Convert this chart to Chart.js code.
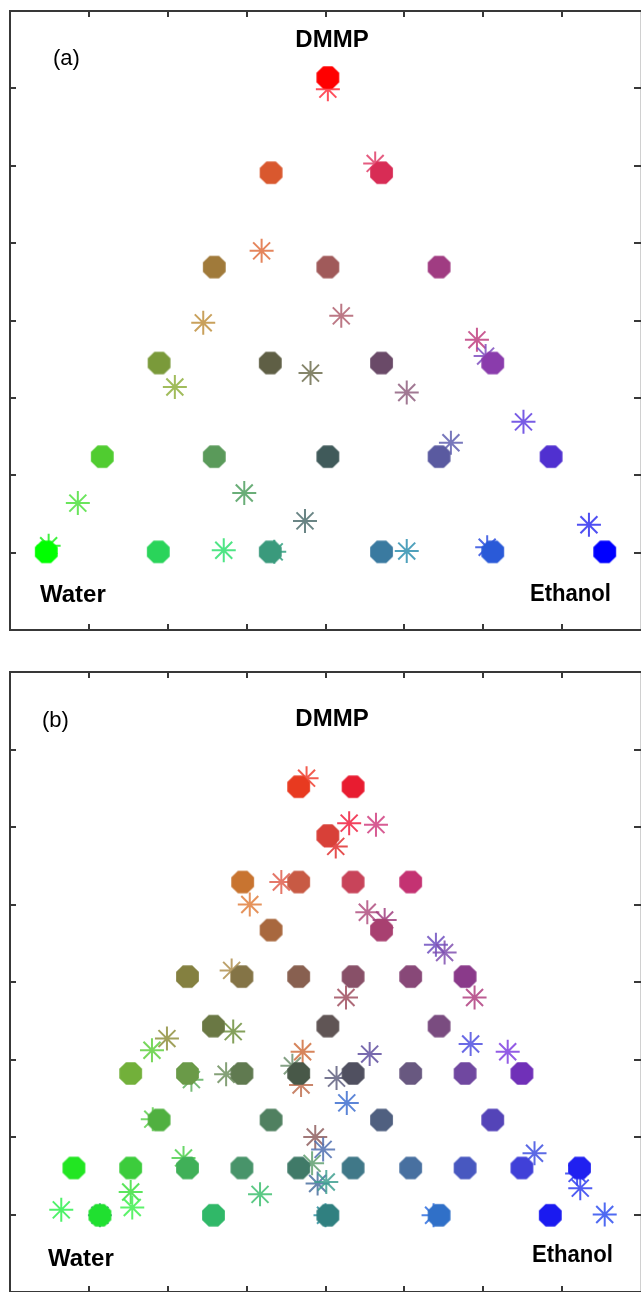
<!DOCTYPE html>
<html><head><meta charset="utf-8">
<style>
html,body{margin:0;padding:0;background:#fff;overflow:hidden}
#wrap{position:relative;width:642px;height:1292px;background:#fff}
canvas{position:absolute;left:0}
</style>
<script src="https://cdn.jsdelivr.net/npm/chart.js"></script>
</head><body>
<div id="wrap">
<canvas id="ca" width="642" height="650" style="top:0px"></canvas>
<canvas id="cb" width="642" height="642" style="top:650px"></canvas>
</div>
<script>
// ---------- tick positions ----------
const xTicks = [1, 2, 3, 4, 5, 6, 7];
const yTicks = [1, 2, 3, 4, 5, 6, 7];

// ---------- panel (a) ----------
const aCircleX = [0.46, 1.88, 3.30, 4.71, 6.12, 7.54,
                  1.17, 2.59, 4.03, 5.44, 6.86,
                  1.89, 3.30, 4.71, 6.12,
                  2.59, 4.03, 5.44,
                  3.31, 4.71,
                  4.03];
const aCircleY = [1.01, 1.01, 1.01, 1.01, 1.01, 1.01,
                  2.24, 2.24, 2.24, 2.24, 2.24,
                  3.45, 3.45, 3.45, 3.45,
                  4.69, 4.69, 4.69,
                  5.91, 5.91,
                  7.14];
const aStarX = [4.03, 4.63, 3.19, 2.45, 4.20, 5.92, 6.03, 3.81, 2.09, 5.03, 6.51,
                5.59, 0.86, 2.97, 3.74, 7.34, 0.49, 2.71, 3.35, 5.03, 6.05];
const aStarY = [6.99, 6.03, 4.90, 3.97, 4.06, 3.75, 3.54, 3.32, 3.14, 3.07, 2.69,
                2.42, 1.64, 1.77, 1.41, 1.36, 1.09, 1.03, 1.01, 1.02, 1.07];

// ---------- panel (b) ----------
const bCircleX = [3.66, 4.35,
                  4.03,
                  2.95, 3.66, 4.35, 5.08,
                  3.31, 4.71,
                  2.25, 2.94, 3.66, 4.35, 5.08, 5.77,
                  2.58, 4.03, 5.44,
                  1.53, 2.25, 2.94, 3.66, 4.35, 5.08, 5.77, 6.49,
                  1.89, 3.31, 4.71, 6.12,
                  0.81, 1.53, 2.25, 2.94, 3.66, 4.35, 5.08, 5.77, 6.49, 7.22,
                  1.14, 2.58, 4.03, 5.44, 6.85];
const bCircleY = [6.52, 6.52,
                  5.89,
                  5.29, 5.29, 5.29, 5.29,
                  4.67, 4.67,
                  4.07, 4.07, 4.07, 4.07, 4.07, 4.07,
                  3.43, 3.43, 3.43,
                  2.82, 2.82, 2.82, 2.82, 2.82, 2.82, 2.82, 2.82,
                  2.22, 2.22, 2.22, 2.22,
                  1.60, 1.60, 1.60, 1.60, 1.60, 1.60, 1.60, 1.60, 1.60, 1.60,
                  0.99, 0.99, 0.99, 0.99, 0.99];
const bStarX = [3.76, 4.30, 4.64, 4.13, 3.44, 3.04, 4.53, 4.75, 5.40, 5.51, 2.81,
                4.26, 5.89, 2.83, 1.99, 1.80, 5.84, 6.31, 4.56, 3.71, 3.58, 2.30,
                2.74, 3.69, 4.14, 4.27, 1.81, 3.87, 3.97, 6.65, 2.20, 3.83, 3.90,
                4.01, 7.19, 7.23, 1.53, 3.17, 1.55, 0.65, 1.14, 4.00, 5.37, 7.54];
const bStarY = [6.63, 6.05, 6.03, 5.75, 5.29, 5.00, 4.90, 4.80, 4.48, 4.38, 4.15,
                3.80, 3.80, 3.36, 3.27, 3.12, 3.20, 3.10, 3.07, 3.10, 2.92, 2.74,
                2.81, 2.67, 2.76, 2.44, 2.23, 2.00, 1.84, 1.79, 1.73, 1.66, 1.40,
                1.42, 1.53, 1.34, 1.29, 1.26, 1.09, 1.06, 0.99, 0.99, 0.99, 1.00];

// ---------- styles (colours) ----------
const aCircleColor = ['#00ff00', '#2ad45a', '#3a9a7c', '#3a7aa0', '#2a5ad8', '#0000ff',
                      '#50cc30', '#5a9a5a', '#405a5a', '#5a5aa0', '#5030d0',
                      '#7a9a3a', '#5f5f45', '#6a4a68', '#8a3cac',
                      '#a07a3a', '#a05a5a', '#a03c82',
                      '#d9582e', '#d82c55',
                      '#ff0000'];
const aStarColor = ['#ff3040', '#e0406a', '#e07040', '#c09040', '#b06070', '#c04080',
                    '#8050c0', '#707050', '#90b040', '#906080', '#6040e0', '#6060b0',
                    '#50e040', '#50a060', '#507070', '#3030f0', '#20f020', '#30e070',
                    '#30a080', '#3090b0', '#3050e0'];
const bCircleColor = ['#e83a20', '#e81c30',
                      '#d84038',
                      '#c87430', '#c85a44', '#c8445a', '#c43272',
                      '#a8683e', '#a84070',
                      '#848040', '#847446', '#886050', '#885068', '#884878', '#8a3a8a',
                      '#6a7844', '#605555', '#7a4c80',
                      '#72b03a', '#6a9a48', '#607a50', '#485848', '#505060', '#685880', '#7048a0', '#7030b8',
                      '#50b040', '#508060', '#506080', '#5444b8',
                      '#22e622', '#3ccc3c', '#40b058', '#48946a', '#407a68', '#407888', '#4870a0', '#4858c0', '#4040d8', '#2020f0',
                      '#20e030', '#30b868', '#308080', '#3070c8', '#1a1af0'];
const bStarColor = ['#f04030', '#f02040', '#d04080', '#e03030', '#e06050', '#e08040',
                    '#b05080', '#a04080', '#7050c0', '#8050b0', '#b09050', '#a05060',
                    '#b04080', '#709040', '#909040', '#60d040', '#5050e0', '#8040e0',
                    '#6050a0', '#d07040', '#709070', '#60b060', '#709060', '#c07050',
                    '#606080', '#4070d0', '#60d050', '#906060', '#5070b0', '#4050e0',
                    '#50d050', '#60a070', '#4a70a0', '#40a090', '#3040f0', '#3040f0',
                    '#40e040', '#40c070', '#40f050', '#30f050', '#409080', '#3090a0',
                    '#3070e0', '#3050f0'];

// ---------- octagon marker ----------
const octCache = {};
function octagon(color) {
  if (octCache[color]) return octCache[color];
  const c = document.createElement('canvas');
  c.width = 25; c.height = 25;
  const g = c.getContext('2d');
  const R = 12.3, cx = 12.5, cy = 12.5;
  g.fillStyle = color;
  g.beginPath();
  for (let k = 0; k < 8; k++) {
    const t = Math.PI / 8 + k * Math.PI / 4;
    const px = cx + R * Math.cos(t), py = cy + R * Math.sin(t);
    if (k === 0) g.moveTo(px, py); else g.lineTo(px, py);
  }
  g.closePath();
  g.fill();
  octCache[color] = c;
  return c;
}
function hexA(h, a) {
  const r = parseInt(h.slice(1, 3), 16), g = parseInt(h.slice(3, 5), 16), b = parseInt(h.slice(5, 7), 16);
  return `rgba(${r},${g},${b},${a})`;
}

// ---------- frame / ticks / text plugin ----------
const framePlugin = {
  id: 'frame',
  beforeDatasetsDraw(chart) {
    const { ctx, chartArea: a, scales } = chart;
    const x = scales.x, y = scales.y;
    ctx.save();
    ctx.strokeStyle = '#d0d0d0'; ctx.lineWidth = 1;
    ctx.beginPath(); ctx.moveTo(a.right - 0.5, a.top); ctx.lineTo(a.right - 0.5, a.bottom); ctx.stroke();
    ctx.strokeStyle = '#383838'; ctx.lineWidth = 2;
    ctx.beginPath();
    ctx.moveTo(a.right, a.top); ctx.lineTo(a.left, a.top);
    ctx.lineTo(a.left, a.bottom); ctx.lineTo(a.right, a.bottom);
    ctx.stroke();
    ctx.beginPath();
    xTicks.forEach(v => {
      const px = Math.round(x.getPixelForValue(v));
      ctx.moveTo(px, a.top); ctx.lineTo(px, a.top + 6);
      ctx.moveTo(px, a.bottom); ctx.lineTo(px, a.bottom - 6);
    });
    yTicks.forEach(v => {
      const py = Math.round(y.getPixelForValue(v));
      ctx.moveTo(a.left, py); ctx.lineTo(a.left + 6, py);
      ctx.moveTo(a.right, py); ctx.lineTo(a.right - 7, py);
    });
    ctx.stroke();
    ctx.restore();
  },
  afterDraw(chart, args, opts) {
    const ctx = chart.ctx;
    ctx.save();
    ctx.fillStyle = '#000';
    ctx.textBaseline = 'alphabetic';
    (opts.texts || []).forEach(t => {
      ctx.font = t.font;
      ctx.textAlign = t.align || 'left';
      if (t.maxWidth) ctx.fillText(t.text, t.x, t.y, t.maxWidth);
      else ctx.fillText(t.text, t.x, t.y);
    });
    ctx.restore();
  }
};

function makeChart(id, cx, cy, cc, sx, sy, sc, padding, texts) {
  return new Chart(document.getElementById(id), {
    type: 'scatter',
    data: {
      datasets: [
        {
          label: 'measured',
          data: cx.map((v, i) => ({ x: v, y: cy[i] })),
          pointStyle: cc.map(c => octagon(c)),
          pointRadius: 11,
          clip: false,
          order: 0
        },
        {
          label: 'predicted',
          data: sx.map((v, i) => ({ x: v, y: sy[i] })),
          pointStyle: 'star',
          pointRadius: 12,
          pointBorderWidth: 2,
          pointBorderColor: sc.map(c => hexA(c, 0.85)),
          pointBackgroundColor: 'rgba(0,0,0,0)',
          clip: false,
          order: 1
        }
      ]
    },
    options: {
      responsive: false,
      animation: false,
      devicePixelRatio: 1,
      events: [],
      layout: { padding, autoPadding: false },
      scales: {
        x: { type: 'linear', min: 0, max: 8, display: false },
        y: { type: 'linear', min: 0, max: 8, display: false }
      },
      plugins: {
        legend: { display: false },
        tooltip: { enabled: false },
        frame: { texts }
      }
    },
    plugins: [framePlugin]
  });
}

const BOLD = 'bold 24px "Liberation Sans", Arial, sans-serif';
const REG = '22px "Liberation Sans", Arial, sans-serif';

makeChart('ca', aCircleX, aCircleY, aCircleColor, aStarX, aStarY, aStarColor,
  { top: 11, left: 10, right: 1, bottom: 20 },
  [
    { text: '(a)', x: 53, y: 65, font: REG },
    { text: 'DMMP', x: 332, y: 47, font: BOLD, align: 'center' },
    { text: 'Water', x: 40, y: 602, font: BOLD, maxWidth: 67 },
    { text: 'Ethanol', x: 530, y: 601, font: BOLD, maxWidth: 81 }
  ]);

makeChart('cb', bCircleX, bCircleY, bCircleColor, bStarX, bStarY, bStarColor,
  { top: 22, left: 10, right: 1, bottom: 0 },
  [
    { text: '(b)', x: 42, y: 77, font: REG },
    { text: 'DMMP', x: 332, y: 76, font: BOLD, align: 'center' },
    { text: 'Water', x: 48, y: 616, font: BOLD, maxWidth: 66 },
    { text: 'Ethanol', x: 532, y: 612, font: BOLD, maxWidth: 81 }
  ]);
</script>
</body></html>
